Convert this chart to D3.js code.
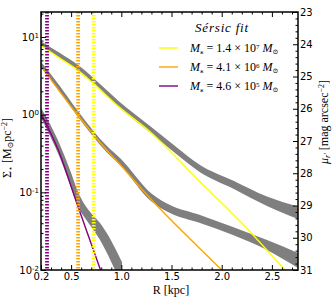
<!DOCTYPE html>
<html>
<head>
<meta charset="utf-8">
<script src="https://cdn.jsdelivr.net/npm/d3@7"></script>
<style>
  body { margin: 0; background: #fff; }
  svg text { font-family: 'DejaVu Sans', sans-serif; }
  .serif { font-family: 'Liberation Serif', 'DejaVu Serif', serif; }
</style>
</head>
<body>
<div id="chart"></div>
<script>
// tick labels
const xTicks = [0.2, 0.5, 1.0, 1.5, 2.0, 2.5];
const yTicks = [0.01, 0.1, 1, 10];
const yExp = ['-2', '-1', '0', '1'];
const muTicks = [23, 24, 25, 26, 27, 28, 29, 30, 31];

// observed profiles (grey bands): radius [kpc], upper / lower surface density [Msun/pc^2]
const band1R = [0.2, 0.389, 0.569, 0.788, 0.967, 1.286, 1.535, 1.784, 2.112, 2.451, 2.76];
const band1Hi = [8.85, 6.21, 4.35, 2.48, 1.52, 0.713, 0.394, 0.225, 0.142, 0.0883, 0.0657];
const band1Lo = [7.64, 5.35, 3.70, 2.10, 1.27, 0.589, 0.321, 0.182, 0.112, 0.0667, 0.0453];

const band2R = [0.2, 0.389, 0.569, 0.857, 0.987, 1.306, 1.485, 1.784, 2.112, 2.451, 2.76];
const band2Hi = [4.82, 2.33, 1.11, 0.394, 0.276, 0.0951, 0.0687, 0.0511, 0.0357, 0.0243, 0.0166];
const band2Lo = [4.04, 1.95, 0.931, 0.325, 0.225, 0.0750, 0.0542, 0.0403, 0.0282, 0.0181, 0.0106];

const band3R = [0.2, 0.29, 0.389, 0.489, 0.569, 0.638, 0.708, 0.788, 0.867, 0.937, 1.007];
const band3Hi = [1.22, 0.757, 0.407, 0.194, 0.101, 0.0687, 0.0524, 0.0403, 0.0282, 0.0192, 0.0127];
const band3Lo = [0.903, 0.531, 0.276, 0.124, 0.0647, 0.0467, 0.0348, 0.0243, 0.0156, 0.0100, 0.0064];

// Sersic fits
const fit1R = [0.21, 0.4, 0.565, 0.721, 0.967, 1.286, 1.784, 2.282, 2.63, 2.76];
const fit1S = [7.64, 5.2, 3.75, 2.53, 1.29, 0.603, 0.137, 0.0311, 0.0100, 0.0066];
const fit2R = [0.217, 0.4, 0.566, 0.854, 0.987, 1.303, 2.0, 2.2];
const fit2S = [3.94, 1.88, 0.989, 0.350, 0.228, 0.0796, 0.0100, 0.0055];
const fit3R = [0.207, 0.372, 0.556, 0.793, 0.85];
const fit3S = [0.989, 0.350, 0.0728, 0.0100, 0.0062];

// effective radii (dotted verticals)
const reffR = [0.725, 0.57, 0.26];

const colors = ['#ffff00', '#ffa500', '#800080'];
const massText = [['1.4', '7'], ['4.1', '6'], ['4.6', '5']];

const width = 334, height = 300;
const plot = {left: 41, right: 298, top: 12, bottom: 270};

const svg = d3.select('#chart').append('svg')
  .attr('width', width)
  .attr('height', height);

const x = d3.scaleLinear().domain([0.2, 2.76]).range([plot.left, plot.right]);
const y = d3.scaleLog().domain([0.01, 21]).range([plot.bottom, plot.top]);
const mu = d3.scaleLinear().domain([23, 31]).range([plot.top, plot.bottom]);

// clip
svg.append('defs').append('clipPath').attr('id', 'clip')
  .append('rect')
  .attr('x', plot.left).attr('y', plot.top)
  .attr('width', plot.right - plot.left).attr('height', plot.bottom - plot.top);

const data = svg.append('g').attr('clip-path', 'url(#clip)');

const area = d3.area()
  .x(d => x(d.r))
  .y0(d => y(d.lo))
  .y1(d => y(d.hi))
  .curve(d3.curveMonotoneX);

const bands = [
  [band1R, band1Hi, band1Lo],
  [band2R, band2Hi, band2Lo],
  [band3R, band3Hi, band3Lo]
];
bands.forEach(b => {
  const pts = b[0].map((r, i) => ({r: r, hi: b[1][i], lo: b[2][i]}));
  data.append('path').datum(pts)
    .attr('fill', '#7f7f7f')
    .attr('stroke', 'none')
    .attr('d', area);
});

const line = d3.line()
  .x(d => x(d.r))
  .y(d => y(d.s))
  .curve(d3.curveMonotoneX);

const fits = [[fit1R, fit1S], [fit2R, fit2S], [fit3R, fit3S]];
fits.forEach((f, k) => {
  const pts = f[0].map((r, i) => ({r: r, s: f[1][i]}));
  data.append('path').datum(pts)
    .attr('fill', 'none')
    .attr('stroke', colors[k])
    .attr('stroke-width', 1.4)
    .attr('d', line);
});

// dotted effective radius markers
reffR.forEach((r, k) => {
  data.append('line')
    .attr('x1', x(r)).attr('x2', x(r))
    .attr('y1', plot.top).attr('y2', plot.bottom)
    .attr('stroke', colors[k])
    .attr('stroke-width', 3.8)
    .attr('stroke-dasharray', '1.5,1.5');
});

// axes
function minorLog() {
  const out = [];
  for (let e = -2; e <= 1; e++) {
    for (let m = 2; m <= 9; m++) {
      const v = m * Math.pow(10, e);
      if (v <= 21) out.push(v);
    }
  }
  return out;
}
const xMinor = d3.range(0.3, 2.76, 0.1).filter(v => !xTicks.some(t => Math.abs(t - v) < 1e-6));
const muMinor = d3.range(23, 31.01, 0.2).filter(v => Math.abs(v - Math.round(v)) > 1e-6);

function styleAxis(g) {
  g.select('.domain').remove();
  g.selectAll('.tick line').attr('stroke', '#000').attr('stroke-width', 1);
  g.selectAll('.tick text').attr('fill', '#000').attr('font-size', 10);
}

svg.append('g').attr('transform', `translate(0,${plot.bottom})`)
  .call(d3.axisBottom(x).tickValues(xTicks).tickSize(-5).tickPadding(3).tickFormat(d3.format('.1f')))
  .call(styleAxis);
svg.append('g').attr('transform', `translate(0,${plot.bottom})`)
  .call(d3.axisBottom(x).tickValues(xMinor).tickSize(-2.5).tickFormat(''))
  .call(styleAxis);
svg.append('g').attr('transform', `translate(0,${plot.top})`)
  .call(d3.axisTop(x).tickValues(xTicks).tickSize(-5).tickFormat(''))
  .call(styleAxis);
svg.append('g').attr('transform', `translate(0,${plot.top})`)
  .call(d3.axisTop(x).tickValues(xMinor).tickSize(-2.5).tickFormat(''))
  .call(styleAxis);

const yAxisG = svg.append('g').attr('transform', `translate(${plot.left},0)`)
  .call(d3.axisLeft(y).tickValues(yTicks).tickSize(-5).tickPadding(2).tickFormat(''))
  .call(styleAxis);
yAxisG.selectAll('.tick text').each(function (d, i) {
  const t = d3.select(this);
  t.append('tspan').text('10');
  t.append('tspan').attr('font-size', 7).attr('baseline-shift', '45%').text(yExp[i]);
});
svg.append('g').attr('transform', `translate(${plot.left},0)`)
  .call(d3.axisLeft(y).tickValues(minorLog()).tickSize(-2.5).tickFormat(''))
  .call(styleAxis);

svg.append('g').attr('transform', `translate(${plot.right},0)`)
  .call(d3.axisRight(mu).tickValues(muTicks).tickSize(-5).tickPadding(2).tickFormat(d3.format('d')))
  .call(styleAxis);
svg.append('g').attr('transform', `translate(${plot.right},0)`)
  .call(d3.axisRight(mu).tickValues(muMinor).tickSize(-2.5).tickFormat(''))
  .call(styleAxis);

// frame
svg.append('rect')
  .attr('x', plot.left).attr('y', plot.top)
  .attr('width', plot.right - plot.left).attr('height', plot.bottom - plot.top)
  .attr('fill', 'none').attr('stroke', '#000').attr('stroke-width', 1.5);

// axis labels
svg.append('text').attr('class', 'serif')
  .attr('x', 171).attr('y', 294)
  .attr('text-anchor', 'middle').attr('font-size', 12)
  .text('R [kpc]');

const yl = svg.append('text').attr('class', 'serif')
  .attr('transform', 'translate(11,148) rotate(-90)')
  .attr('text-anchor', 'middle').attr('font-size', 12);
yl.append('tspan').text('Σ');
yl.append('tspan').attr('font-size', 8).attr('baseline-shift', '-25%').text('⋆');
yl.append('tspan').text(' [M');
yl.append('tspan').attr('font-size', 8).attr('baseline-shift', '-25%').text('⊙');
yl.append('tspan').text('pc');
yl.append('tspan').attr('font-size', 8).attr('baseline-shift', '45%').text('−2');
yl.append('tspan').text(']');

const ml = svg.append('text').attr('class', 'serif')
  .attr('transform', 'translate(328,122) rotate(-90)')
  .attr('text-anchor', 'middle').attr('font-size', 12);
ml.append('tspan').attr('font-style', 'italic').text('μ');
ml.append('tspan').attr('font-size', 8).attr('font-style', 'italic').attr('baseline-shift', '-25%').text("r'");
ml.append('tspan').text(' [mag arcsec');
ml.append('tspan').attr('font-size', 8).attr('baseline-shift', '45%').text('−2');
ml.append('tspan').text(']');

// legend
const leg = svg.append('g');
leg.append('text').attr('class', 'serif')
  .attr('x', 222).attr('y', 32)
  .attr('text-anchor', 'middle').attr('font-size', 13)
  .attr('font-style', 'italic')
  .attr('letter-spacing', 0.8)
  .text('Sérsic fit');

massText.forEach((m, k) => {
  const yy = 48 + k * 19;
  leg.append('line')
    .attr('x1', 159).attr('x2', 178)
    .attr('y1', yy).attr('y2', yy)
    .attr('stroke', colors[k]).attr('stroke-width', 1.4);
  const t = leg.append('text').attr('class', 'serif')
    .attr('x', 190).attr('y', yy + 4).attr('font-size', 12);
  t.append('tspan').attr('font-style', 'italic').text('M');
  t.append('tspan').attr('font-size', 7).attr('baseline-shift', '-25%').text('⁎');
  t.append('tspan').text(' = ' + m[0] + ' × 10');
  t.append('tspan').attr('font-size', 7).attr('baseline-shift', '45%').text(m[1]);
  t.append('tspan').attr('font-style', 'italic').text(' M');
  t.append('tspan').attr('font-size', 7).attr('baseline-shift', '-25%').text('⊙');
});
</script>
</body>
</html>
